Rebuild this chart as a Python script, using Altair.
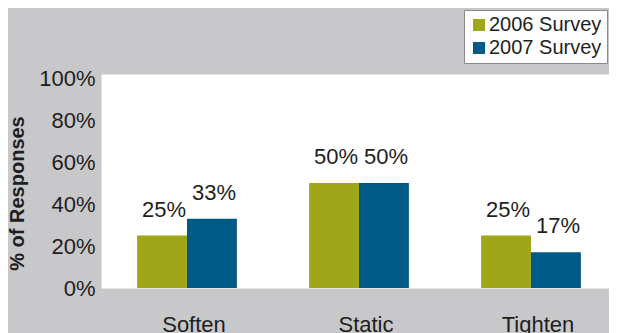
import altair as alt
import pandas as pd

categories = ["Soften", "Static", "Tighten"]
series = ["2006 Survey", "2007 Survey"]
values_2006 = [0.25, 0.50, 0.25]
values_2007 = [0.33, 0.50, 0.17]
y_ticks = [0, 0.2, 0.4, 0.6, 0.8, 1.0]

rows = []
for c, v in zip(categories, values_2006):
    rows.append({"Category": c, "Series": series[0], "Value": v})
for c, v in zip(categories, values_2007):
    rows.append({"Category": c, "Series": series[1], "Value": v})
df = pd.DataFrame(rows)

FONT = "Liberation Sans"
TXT = "#1e1e1e"
BG = "#C8C8CA"

base = alt.Chart(df).encode(
    x=alt.X(
        "Category:N",
        sort=categories,
        title=None,
        scale=alt.Scale(paddingInner=0.42, paddingOuter=0.21),
        axis=alt.Axis(
            labelAngle=0,
            labelFontSize=22,
            labelFont=FONT,
            labelColor=TXT,
            labelBaseline="alphabetic",
            labelPadding=43,
            labelOffset=7,
            ticks=False,
            tickSize=0,
            domain=False,
            grid=False,
        ),
    ),
    xOffset=alt.XOffset("Series:N", sort=series, scale=alt.Scale(paddingInner=0, paddingOuter=0)),
    y=alt.Y(
        "Value:Q",
        scale=alt.Scale(domain=[0, 1.02], nice=False),
        axis=alt.Axis(
            values=y_ticks,
            format=".0%",
            title="% of Responses",
            titleFont=FONT,
            titleFontSize=20,
            titleFontWeight="bold",
            titleColor=TXT,
            titleAngle=-90,
            titleAlign="center",
            titleBaseline="middle",
            titleX=-84,
            titleY=119,
            labelFontSize=22,
            labelFont=FONT,
            labelColor=TXT,
            labelPadding=6,
            ticks=False,
            tickSize=0,
            domain=False,
            grid=False,
        ),
    ),
)

bars = base.mark_bar().encode(
    color=alt.Color(
        "Series:N",
        sort=series,
        scale=alt.Scale(domain=series, range=["#9FA617", "#005A87"]),
        legend=alt.Legend(
            title=None,
            orient="none",
            legendX=363,
            legendY=-64,
            fillColor="white",
            strokeColor="#8a8a8a",
            padding=5,
            symbolType="square",
            symbolSize=144,
            symbolStrokeWidth=0,
            labelFont=FONT,
            labelFontSize=20,
            labelColor=TXT,
            labelOffset=0,
            rowPadding=3,
        ),
    )
)

labels = base.mark_text(
    baseline="alphabetic", dy=-19, dx=2, fontSize=22, font=FONT, color=TXT
).encode(text=alt.Text("Value:Q", format=".0%"))

chart = (
    alt.layer(bars, labels)
    .properties(
        width=516,
        height=214,
        background=BG,
        padding={"left": 93, "top": 66, "right": -8, "bottom": 45},
        autosize=alt.AutoSizeParams(type="none"),
    )
    .configure_view(fill="white", strokeOpacity=0)
)

chart.save("out.html", embed_options={"renderer": "svg", "actions": False})
